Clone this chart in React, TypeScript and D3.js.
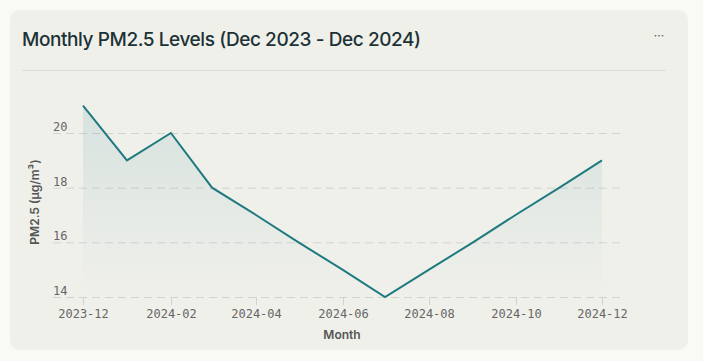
import React, { useEffect, useRef } from 'react';
import * as d3 from 'd3';

const months = [
  '2023-12', '2024-01', '2024-02', '2024-03', '2024-04', '2024-05', '2024-06',
  '2024-07', '2024-08', '2024-09', '2024-10', '2024-11', '2024-12',
];
const pm25 = [21, 19, 20, 18, 17, 16, 15, 14, 15, 16, 17, 18, 19];
const yTicks = [14, 16, 18, 20];
const xTickMonths = ['2023-12', '2024-02', '2024-04', '2024-06', '2024-08', '2024-10', '2024-12'];

const App: React.FC = () => {
  const ref = useRef<SVGSVGElement | null>(null);

  useEffect(() => {
    if (!ref.current) return;
    const svg = d3.select(ref.current);
    svg.selectAll('*').remove();

    const parse = d3.timeParse('%Y-%m');
    const data = months.map((m, i) => ({ date: parse(m) as Date, value: pm25[i] }));

    const x = d3
      .scaleTime()
      .domain([parse('2023-12') as Date, parse('2024-12') as Date])
      .range([83, 602]);
    const y = d3.scaleLinear().domain([14, 20]).range([297, 133]);

    // card
    svg.append('rect').attr('width', 703).attr('height', 361).attr('fill', '#f9faf6');
    svg
      .append('rect')
      .attr('x', 10)
      .attr('y', 10)
      .attr('width', 678)
      .attr('height', 340)
      .attr('rx', 10)
      .attr('fill', '#f0f0eb');

    svg
      .append('text')
      .attr('x', 22)
      .attr('y', 46)
      .attr('font-family', 'Inter, sans-serif')
      .attr('font-size', 19)
      .attr('font-weight', 500)
      .attr('letter-spacing', '-0.42')
      .attr('fill', '#1d3236')
      .text('Monthly PM2.5 Levels (Dec 2023 - Dec 2024)');

    svg
      .append('text')
      .attr('x', 659)
      .attr('y', 40)
      .attr('text-anchor', 'middle')
      .attr('font-family', 'Inter, sans-serif')
      .attr('font-size', 12)
      .attr('fill', '#555')
      .text('···');

    svg
      .append('line')
      .attr('x1', 22)
      .attr('x2', 666)
      .attr('y1', 70.5)
      .attr('y2', 70.5)
      .attr('stroke', '#dcdcd6');

    // gradient
    const defs = svg.append('defs');
    const grad = defs
      .append('linearGradient')
      .attr('id', 'areaGrad')
      .attr('x1', 0)
      .attr('x2', 0)
      .attr('y1', 0)
      .attr('y2', 1);
    grad.append('stop').attr('offset', '0%').attr('stop-color', '#1f7a80').attr('stop-opacity', 0.12);
    grad.append('stop').attr('offset', '100%').attr('stop-color', '#1f7a80').attr('stop-opacity', 0.0);

    // grid
    svg
      .append('g')
      .selectAll('line')
      .data(yTicks)
      .enter()
      .append('line')
      .attr('x1', 53)
      .attr('x2', 625)
      .attr('y1', (d) => y(d) + 0.5)
      .attr('y2', (d) => y(d) + 0.5)
      .attr('stroke', '#d3d3ce')
      .attr('stroke-dasharray', '8,5');

    svg
      .append('g')
      .selectAll('text')
      .data(yTicks)
      .enter()
      .append('text')
      .attr('x', 53)
      .attr('y', (d) => y(d) - 2)
      .attr('font-family', 'DejaVu Sans Mono, monospace')
      .attr('font-size', 12)
      .attr('fill', '#666')
      .text((d) => d);

    // area + line
    const area = d3
      .area<{ date: Date; value: number }>()
      .x((d) => x(d.date))
      .y0(y(14))
      .y1((d) => y(d.value));
    svg.append('path').datum(data).attr('d', area).attr('fill', 'url(#areaGrad)');

    const line = d3
      .line<{ date: Date; value: number }>()
      .x((d) => x(d.date))
      .y((d) => y(d.value));
    svg
      .append('path')
      .datum(data)
      .attr('d', line)
      .attr('fill', 'none')
      .attr('stroke', '#1f7a80')
      .attr('stroke-width', 2);

    // x ticks
    const xg = svg.append('g');
    xTickMonths.forEach((m) => {
      const px = Math.round(x(parse(m) as Date)) + 0.5;
      xg.append('line')
        .attr('x1', px)
        .attr('x2', px)
        .attr('y1', 297)
        .attr('y2', 305)
        .attr('stroke', '#d3d3ce');
      xg.append('text')
        .attr('x', px)
        .attr('y', 318)
        .attr('text-anchor', 'middle')
        .attr('font-family', 'DejaVu Sans Mono, monospace')
        .attr('font-size', 12)
        .attr('fill', '#666')
        .text(m);
    });

    svg
      .append('text')
      .attr('x', 342)
      .attr('y', 339)
      .attr('text-anchor', 'middle')
      .attr('font-family', 'Inter, sans-serif')
      .attr('font-size', 12)
      .attr('font-weight', 600)
      .attr('fill', '#555')
      .text('Month');

    svg
      .append('text')
      .attr('transform', 'translate(39,202) rotate(-90)')
      .attr('text-anchor', 'middle')
      .attr('font-family', 'Inter, sans-serif')
      .attr('font-size', 12)
      .attr('font-weight', 600)
      .attr('fill', '#555')
      .text('PM2.5 (µg/m³)');
  }, []);

  return (
    <svg
      ref={ref}
      width={703}
      height={361}
      style={{ position: 'absolute', left: 0, top: 0, display: 'block' }}
    ></svg>
  );
};

export default App;
